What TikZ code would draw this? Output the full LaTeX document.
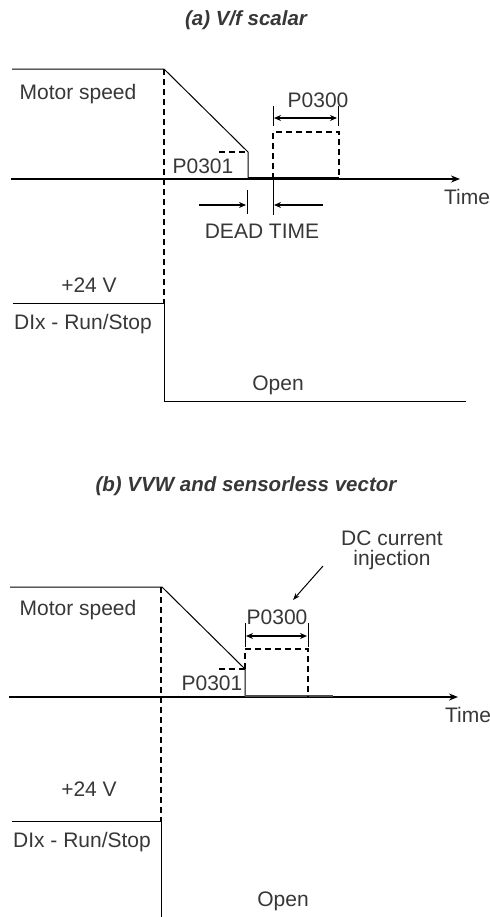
\documentclass[tikz,border=0pt]{standalone}
\usepackage{fontspec}
\setmainfont{Liberation Sans}
\usetikzlibrary{arrows.meta}
\definecolor{txtgray}{RGB}{55,55,55}
\begin{document}
\begin{tikzpicture}[x=1bp,y=-1bp,
  lbl/.style={text=txtgray,font=\fontsize{21bp}{25bp}\selectfont,inner sep=0pt},
  ttl/.style={text=txtgray,font=\fontsize{20.5bp}{25bp}\selectfont\bfseries\itshape,inner sep=0pt},
  sig/.style={line width=1bp},
  axisline/.style={line width=1.8bp,-{Stealth[length=9bp,width=7bp]}},
  dsh/.style={line width=1.6bp,dash pattern=on 6bp off 4bp},
  dimarrow/.style={line width=1.5bp,{Stealth[length=7bp,width=6bp]}-{Stealth[length=7bp,width=6bp]}},
  onearrow/.style={line width=1.5bp,-{Stealth[length=7bp,width=6bp]}},
  ptr/.style={line width=1bp,-{Stealth[length=7bp,width=5bp]}}
]
\useasboundingbox (0,0) rectangle (490,917);

% ---------------- (a) V/f scalar ----------------
\node[ttl] (ta) at (246,20) {(a) V/f scalar};

\coordinate (as0) at (12,69);
\coordinate (as1) at (164,69);
\coordinate (as2) at (248,152);
\coordinate (as3) at (248,179);
\coordinate (ap0) at (219,152);
\draw[sig] (as0) -- (as1) -- (as2) -- (as3);
\draw[dsh] (ap0) -- (as2);

\coordinate (aax0) at (11,179);
\coordinate (aax1) at (460,179);
\draw[axisline] (aax0) -- (aax1);
\draw[line width=1.2bp] (248,178) -- (339,178);

% dashed DC box
\coordinate (ab0) at (273,179);
\coordinate (ab1) at (273,132);
\coordinate (ab2) at (339,132);
\coordinate (ab3) at (339,179);
\draw[dsh] (ab0) -- (ab1) -- (ab2) -- (ab3);
% P0300 dimension
\draw[sig] (273,106) -- (273,126);
\draw[sig] (338,106) -- (338,126);
\coordinate (ad0) at (274,118);
\coordinate (ad1) at (337,118);
\draw[dimarrow] (ad0) -- (ad1);
\node[lbl] (ap300) at (318,100) {P0300};
\node[lbl] (ap301) at (203,166) {P0301};

% dead time
\draw[sig] (247,190) -- (247,214);
\draw[sig] (273,179) -- (273,215);
\coordinate (adt0) at (199,205);
\coordinate (adt1) at (246,205);
\coordinate (adt2) at (323,205);
\coordinate (adt3) at (274,205);
\draw[onearrow] (adt0) -- (adt1);
\draw[onearrow] (adt2) -- (adt3);
\node[lbl] (adead) at (262,231) {DEAD TIME};

\node[lbl] (atime) at (467,197) {Time};
\node[lbl] (amotor) at (78,94) {Motor speed};

% run/stop
\coordinate (av0) at (164,69);
\coordinate (av1) at (164,303);
\coordinate (av2) at (164,401);
\coordinate (av3) at (466,401);
\coordinate (ah0) at (13,303);
\draw[dsh] (av0) -- (av1);
\draw[sig] (ah0) -- (av1) -- (av2) -- (av3);
\node[lbl] (a24) at (89,285) {+24 V};
\node[lbl] (adi) at (83,324) {DIx - Run/Stop};
\node[lbl] (aopen) at (278,385) {Open};

% ---------------- (b) VVW and sensorless vector ----------------
\node[ttl] (tb) at (246,486) {(b) VVW and sensorless vector};

\node[lbl] (bdc) at (392,538) {DC current};
\node[lbl] (binj) at (392,560) {injection};
\coordinate (bq0) at (323,566);
\coordinate (bq1) at (293,600);
\draw[ptr] (bq0) -- (bq1);

\coordinate (bs0) at (10,587);
\coordinate (bs1) at (162,587);
\coordinate (bs2) at (245,669);
\coordinate (bs3) at (245,697);
\coordinate (bp0) at (219,669);
\draw[sig] (bs0) -- (bs1) -- (bs2) -- (bs3);
\draw[dsh] (bp0) -- (bs2);

\coordinate (bax0) at (9,697);
\coordinate (bax1) at (458,697);
\draw[axisline] (bax0) -- (bax1);
\draw[line width=1.2bp,black!70] (245,696) -- (333,696);

\coordinate (bb0) at (245,669);
\coordinate (bb1) at (245,649);
\coordinate (bb2) at (308,649);
\coordinate (bb3) at (308,697);
\draw[dsh] (bb0) -- (bb1) -- (bb2) -- (bb3);
\draw[sig] (245,623) -- (245,647);
\draw[sig] (308,623) -- (308,647);
\coordinate (bd0) at (246,636);
\coordinate (bd1) at (307,636);
\draw[dimarrow] (bd0) -- (bd1);
\node[lbl] (bp300) at (277,617) {P0300};
\node[lbl] (bp301) at (212,683) {P0301};

\node[lbl] (btime) at (468,715) {Time};
\node[lbl] (bmotor) at (78,610) {Motor speed};

\coordinate (bv0) at (161,587);
\coordinate (bv1) at (161,821);
\coordinate (bv2) at (161,917);
\coordinate (bh0) at (12,821);
\draw[dsh] (bv0) -- (bv1);
\draw[sig] (bh0) -- (bv1) -- (bv2);
\node[lbl] (b24) at (89,789) {+24 V};
\node[lbl] (bdi) at (82,842) {DIx - Run/Stop};
\node[lbl] (bopen) at (283,901) {Open};
\end{tikzpicture}
\end{document}
